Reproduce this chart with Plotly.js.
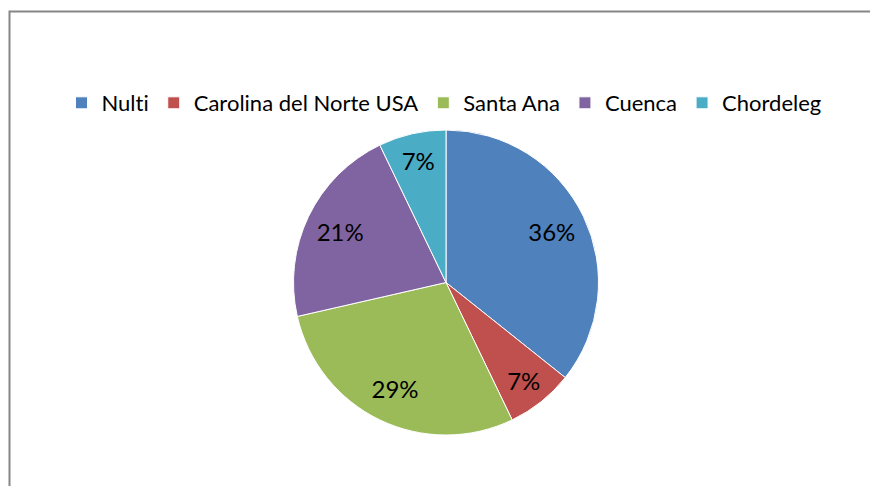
<!DOCTYPE html>
<html>
<head>
<meta charset="utf-8">
<script src="https://cdn.plot.ly/plotly-3.0.1.min.js"></script>
<style>html,body{margin:0;padding:0;background:#fff;}#chart{width:870px;height:486px;}
text{font-variant-ligatures:none;font-feature-settings:"liga" 0;}</style>
</head>
<body>
<div id="chart"></div>
<script>
const categories = ["Nulti", "Carolina del Norte USA", "Santa Ana", "Cuenca", "Chordeleg"];
const counts = [5, 1, 4, 3, 1];
const colors = ["#4F81BD", "#C0504D", "#9BBB59", "#8064A2", "#4BACC6"];

const W = 870, H = 486;
const dom = {x: [293.5 / W, 598.5 / W], y: [51 / H, 356 / H]};

const pieTrace = {
  type: "pie",
  labels: categories,
  values: counts,
  sort: false,
  direction: "clockwise",
  rotation: 0,
  marker: {colors: colors, line: {color: "#ffffff", width: 1}},
  textinfo: "none",
  hoverinfo: "label+percent",
  domain: dom
};

// transparent ring used only to place the percentage labels further out
const labelTrace = {
  type: "pie",
  labels: categories,
  values: counts,
  sort: false,
  direction: "clockwise",
  rotation: 0,
  hole: 0.54,
  showlegend: false,
  marker: {colors: categories.map(() => "rgba(0,0,0,0)"), line: {width: 0}},
  textinfo: "percent",
  texttemplate: "%{percent:.0%}",
  textposition: "inside",
  insidetextorientation: "horizontal",
  textfont: {family: "Lato, sans-serif", size: 24, color: "#000000"},
  hoverinfo: "skip",
  domain: dom
};

const layout = {
  width: W, height: H,
  margin: {l: 0, r: 0, t: 0, b: 0},
  paper_bgcolor: "#ffffff",
  showlegend: true,
  legend: {
    orientation: "h",
    x: 444 / W, xanchor: "center",
    y: 1 - 103 / H, yanchor: "middle",
    font: {family: "Lato, sans-serif", size: 22, color: "#000000"},
    itemwidth: 30,
    traceorder: "normal"
  },
  shapes: [{
    type: "rect", xref: "paper", yref: "paper",
    x0: 9.5 / W, x1: 880 / W, y0: -0.05, y1: 1 - 11.5 / H,
    line: {color: "#868686", width: 2}
  }]
};

Plotly.newPlot("chart", [pieTrace, labelTrace], layout, {displayModeBar: false, staticPlot: true});
</script>
</body>
</html>
